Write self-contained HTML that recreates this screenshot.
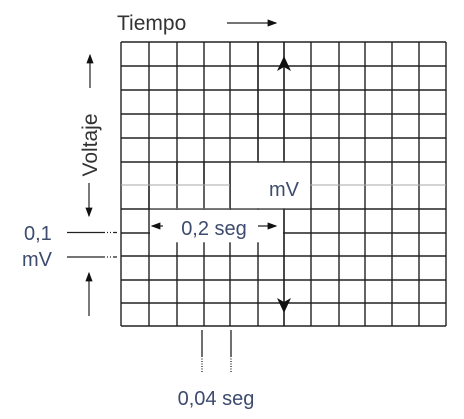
<!DOCTYPE html>
<html><head><meta charset="utf-8"><style>
html,body{margin:0;padding:0;background:#fff;width:464px;height:419px;overflow:hidden}
svg text{font-family:"Liberation Sans",sans-serif}
</style></head><body>
<svg width="464" height="419" viewBox="0 0 464 419" xmlns="http://www.w3.org/2000/svg">
<defs>
<marker id="ah" markerWidth="8" markerHeight="6" refX="7" refY="3" orient="auto"><path d="M0,0 L8,3 L0,6" fill="#111"/></marker>
</defs>
<g id="grid"></g>
<g id="over"></g>
<script>
const xLines=[121,149,177,204,230,258,284,311,339,365,392,419,446];
const yLines=[42,66,90,114,138,162,185,209,233,256,280,303,326];
const ns="http://www.w3.org/2000/svg";
const g=document.getElementById('grid');
function line(x1,y1,x2,y2,st,w,parent,name){const l=document.createElementNS(ns,'line');
l.setAttribute('x1',x1);l.setAttribute('y1',y1);l.setAttribute('x2',x2);l.setAttribute('y2',y2);
l.setAttribute('stroke',st||'#222');l.setAttribute('stroke-width',w||1.4);


(parent||g).appendChild(l);return l;}
xLines.forEach(x=>line(x,42,x,326,'#222',1.4,g,'grid-vertical-line'));
yLines.forEach((y,i)=>line(121,y,446,y,i==6?'#aaa':'#222',i==6?1:1.4,g,'grid-horizontal-line'));
const o=document.getElementById('over');
function rect(x,y,w,h){const r=document.createElementNS(ns,'rect');r.setAttribute('x',x);r.setAttribute('y',y);r.setAttribute('width',w);r.setAttribute('height',h);r.setAttribute('fill','#fff');


o.appendChild(r);}
rect(231,162.8,79,45.5);
rect(150,185.8,80,22.5);
rect(150,209.8,133,32.5);
line(258,42,258,160,'#222',1.4,o,'grid-vertical-line');
line(284,42,284,160,'#222',1.4,o,'mv-line-up');
line(284,210,284,326,'#222',1.4,o,'mv-line-down');
line(149,185,149,209,'#222',1.4,o,'grid-vertical-line');
line(177,162,177,208,'#222',1.4,o,'grid-vertical-line');
line(204,162,204,208,'#222',1.4,o,'grid-vertical-line');
line(230,162,230,208,'#222',1.4,o,'grid-vertical-line');
line(121,185,230,185,'#aaa',1,o,'grid-horizontal-line');
</script>
<g>
<path d="M284,56 L277,71 L284,67 L291,71 Z" fill="#111"/>
<path d="M284,313 L277,298 L284,302 L291,298 Z" fill="#111"/>
</g>
<text x="284" y="196" font-size="20" fill="#3d4b6e" text-anchor="middle">mV</text>
<text x="214" y="235" font-size="20" fill="#3d4b6e" text-anchor="middle">0,2 seg</text>
<line x1="163" y1="226" x2="152" y2="226" stroke="#222" stroke-width="1.2" marker-end="url(#ah)"/>
<line x1="258" y1="226" x2="276" y2="226" stroke="#222" stroke-width="1.2" marker-end="url(#ah)"/>
<text x="117" y="30" font-size="21" fill="#333">Tiempo</text>
<line x1="227" y1="23" x2="276" y2="23" stroke="#222" stroke-width="1.2" marker-end="url(#ah)"/>
<text transform="translate(97,145) rotate(-90)" font-size="21" fill="#333" text-anchor="middle">Voltaje</text>
<line x1="90" y1="88" x2="90" y2="55" stroke="#222" stroke-width="1.2" marker-end="url(#ah)"/>
<line x1="89" y1="183" x2="89" y2="216" stroke="#222" stroke-width="1.2" marker-end="url(#ah)"/>
<line x1="89" y1="316" x2="89" y2="273" stroke="#222" stroke-width="1.2" marker-end="url(#ah)"/>
<text x="24" y="240" font-size="20" fill="#3d4b6e">0,1</text>
<text x="22" y="266" font-size="20" fill="#3d4b6e">mV</text>
<line x1="67" y1="232.5" x2="117" y2="232.5" stroke="#222" stroke-width="1.2" stroke-dasharray="38,2,1,2,1,2"/>
<line x1="67" y1="257" x2="117" y2="257" stroke="#222" stroke-width="1.2" stroke-dasharray="38,2,1,2,1,2"/>
<g>
<line x1="202" y1="330" x2="202" y2="356" stroke="#222" stroke-width="1.3"/>
<line x1="202" y1="356" x2="202" y2="373" stroke="#222" stroke-width="1.3" stroke-dasharray="1,1.5"/>
<line x1="231" y1="330" x2="231" y2="356" stroke="#222" stroke-width="1.3"/>
<line x1="231" y1="356" x2="231" y2="373" stroke="#222" stroke-width="1.3" stroke-dasharray="1,1.5"/>
</g>
<text x="216" y="405" font-size="20" fill="#3d4b6e" text-anchor="middle">0,04 seg</text>
</svg>
</body></html>
